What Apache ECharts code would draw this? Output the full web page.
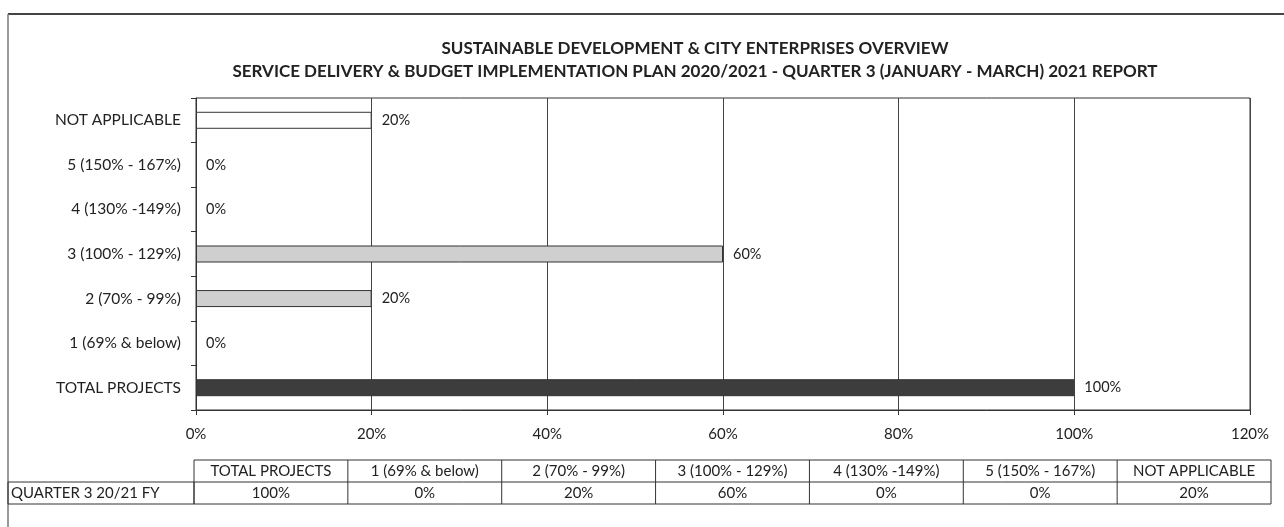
<!DOCTYPE html>
<html><head><meta charset="utf-8">
<script src="https://cdn.jsdelivr.net/npm/echarts@6/dist/echarts.min.js"></script>
<style>html,body{margin:0;padding:0;background:#fff}#c{width:1284px;height:527px}</style>
</head><body><div id="c"></div>
<script>
var categories = ['TOTAL PROJECTS', '1 (69% & below)', '2 (70% - 99%)', '3 (100% - 129%)', '4 (130% -149%)', '5 (150% - 167%)', 'NOT APPLICABLE'];
var values = [100, 0, 20, 60, 0, 0, 20];
var barColors = ['#3d3d3d', '#ffffff', '#cfcfcf', '#cfcfcf', '#ffffff', '#ffffff', '#ffffff'];
var xTicks = [0, 20, 40, 60, 80, 100, 120];
var rowLabel = 'QUARTER 3 20/21 FY';
var title1 = 'SUSTAINABLE DEVELOPMENT & CITY ENTERPRISES OVERVIEW';
var title2 = 'SERVICE DELIVERY & BUDGET IMPLEMENTATION PLAN 2020/2021 - QUARTER 3 (JANUARY - MARCH) 2021 REPORT';

var FONT = 'Lato, "Liberation Sans", sans-serif';
var chart = echarts.init(document.getElementById('c'), null, {renderer: 'canvas'});

// table layout
var tblLeft = 194, tblRight = 1271, tblTop = 460, rowH = 22, labelLeft = 8;
var colW = (tblRight - tblLeft) / categories.length;
var TFS = 15;
var g = [];
// frame
g.push({type: 'line', shape: {x1: 8, y1: 14, x2: 1284, y2: 14}, style: {stroke: '#444', lineWidth: 2}});
g.push({type: 'line', shape: {x1: 8, y1: 14, x2: 8, y2: 527}, style: {stroke: '#777', lineWidth: 1.5}});
// table borders
g.push({type: 'rect', shape: {x: tblLeft, y: tblTop, width: tblRight - tblLeft, height: rowH * 2}, style: {fill: 'none', stroke: '#333', lineWidth: 1}});
g.push({type: 'rect', shape: {x: labelLeft, y: tblTop + rowH, width: tblLeft - labelLeft, height: rowH}, style: {fill: 'none', stroke: '#333', lineWidth: 1}});
g.push({type: 'line', shape: {x1: tblLeft, y1: tblTop + rowH, x2: tblRight, y2: tblTop + rowH}, style: {stroke: '#333', lineWidth: 1}});
g.push({type: 'text', x: labelLeft + 3, y: tblTop + rowH * 1.5, style: {text: rowLabel, font: TFS + 'px ' + FONT, fill: '#222', textVerticalAlign: 'middle', textAlign: 'left'}});
for (var i = 0; i < categories.length; i++) {
  var cx = tblLeft + colW * i;
  if (i > 0) g.push({type: 'line', shape: {x1: cx, y1: tblTop, x2: cx, y2: tblTop + rowH * 2}, style: {stroke: '#333', lineWidth: 1}});
  g.push({type: 'text', x: cx + colW / 2, y: tblTop + rowH / 2, style: {text: categories[i], font: TFS + 'px ' + FONT, fill: '#222', textAlign: 'center', textVerticalAlign: 'middle'}});
  g.push({type: 'text', x: cx + colW / 2, y: tblTop + rowH * 1.5, style: {text: values[i] + '%', font: TFS + 'px ' + FONT, fill: '#222', textAlign: 'center', textVerticalAlign: 'middle'}});
}

var option = {
  backgroundColor: '#fff',
  animation: false,
  title: [
    {text: title1, left: 690, top: 35, textAlign: 'center', textStyle: {fontFamily: FONT, fontWeight: 'bold', fontSize: 17, color: '#222'}},
    {text: title2, left: 690, top: 58, textAlign: 'center', textStyle: {fontFamily: FONT, fontWeight: 'bold', fontSize: 17, color: '#222'}}
  ],
  grid: {left: 196, right: 34, top: 98, bottom: 117, show: true, borderColor: '#333', borderWidth: 1, containLabel: false},
  xAxis: {
    type: 'value', min: 0, max: 120, interval: 20,
    axisLine: {show: true, lineStyle: {color: '#333'}},
    axisTick: {show: true, length: 5, lineStyle: {color: '#333'}},
    splitLine: {show: true, lineStyle: {color: '#444', width: 1}},
    axisLabel: {formatter: function (v) { return xTicks.indexOf(v) >= 0 ? v + '%' : ''; }, fontFamily: FONT, fontSize: 15, color: '#222', margin: 17}
  },
  yAxis: {
    type: 'category', data: categories,
    axisLine: {show: true, lineStyle: {color: '#333'}},
    axisTick: {show: true, length: 5, lineStyle: {color: '#333'}},
    axisLabel: {fontFamily: FONT, fontSize: 15.5, color: '#222', margin: 15}
  },
  series: [{
    type: 'bar', barWidth: 17,
    data: values.map(function (v, i) { return {value: v, itemStyle: {color: barColors[i], borderColor: '#333', borderWidth: v > 0 ? 1 : 0}}; }),
    label: {show: true, position: 'right', distance: 10, formatter: function (p) { return p.value + '%'; }, fontFamily: FONT, fontSize: 14.5, color: '#222'}
  }],
  graphic: g
};
chart.setOption(option);
</script></body></html>
